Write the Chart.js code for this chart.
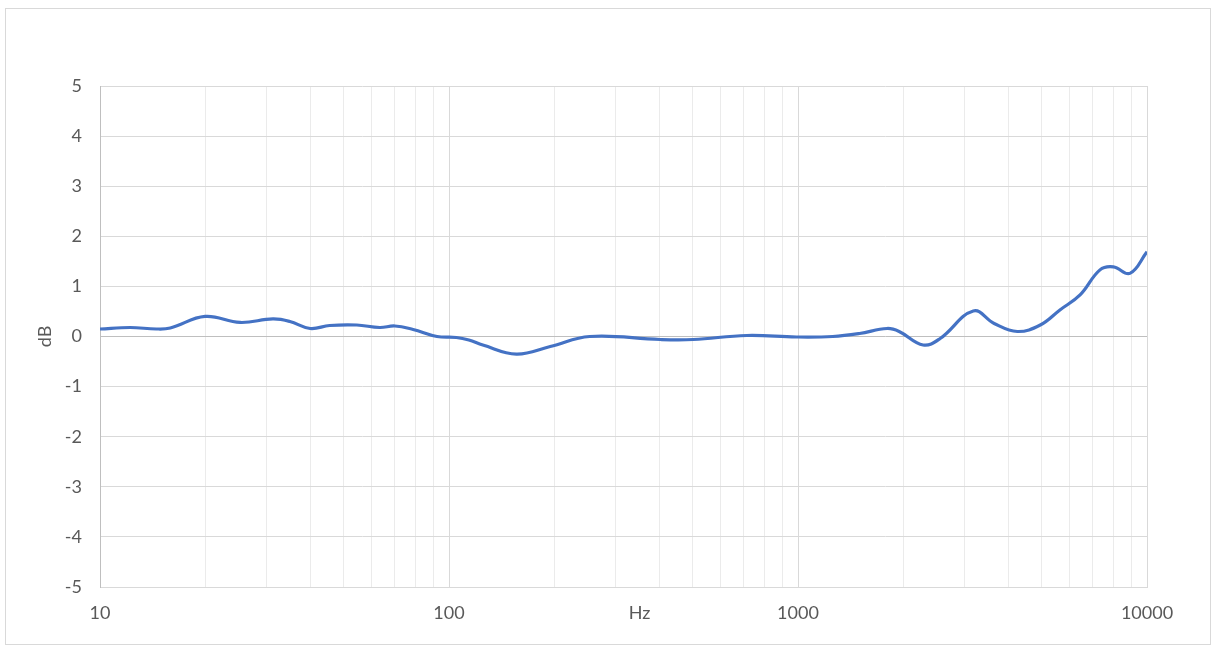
<!DOCTYPE html>
<html>
<head>
<meta charset="utf-8">
<script src="https://cdn.jsdelivr.net/npm/chart.js@4/dist/chart.umd.min.js"></script>
<style>
  html, body { margin: 0; padding: 0; background: #ffffff; }
  #frame {
    position: absolute; left: 5px; top: 8px;
    width: 1206px; height: 637px;
    box-sizing: border-box; border: 1px solid #d9d9d9;
    background: #ffffff;
  }
  #frame canvas { display: block; }
</style>
</head>
<body>
<div id="frame"><canvas id="response"></canvas></div>
<script>
// ---- data ----
const freqHz = [10, 12.2, 14.5, 15.9, 20, 25.2, 31.3, 35, 40, 45.5, 54.4, 63.3, 70, 78.9, 92.4,
                105, 114, 125, 156, 195, 253, 403, 501, 713, 990, 1257, 1501, 1800, 1949,
                2283, 2555, 3178, 3648, 4250, 4945, 5630, 6430, 7333, 8010, 8932, 10000];
const levelDb = [0.15, 0.18, 0.15, 0.17, 0.40, 0.28, 0.35, 0.30, 0.16, 0.22, 0.23, 0.18, 0.21, 0.14, 0.00,
                 -0.02, -0.07, -0.17, -0.35, -0.20, 0.00, -0.06, -0.06, 0.02, -0.01, 0.00, 0.06, 0.16, 0.10,
                 -0.17, -0.04, 0.51, 0.26, 0.10, 0.23, 0.53, 0.83, 1.33, 1.39, 1.26, 1.69];

// grid positions on the log axis (labels only on decades)
const xGridTicks = [10, 20, 30, 40, 50, 60, 70, 80, 90,
                    100, 200, 300, 400, 500, 600, 700, 800, 900,
                    1000, 2000, 3000, 4000, 5000, 6000, 7000, 8000, 9000, 10000];
const xLabelTicks = [10, 100, 1000, 10000];
const yTicks = [-5, -4, -3, -2, -1, 0, 1, 2, 3, 4, 5];

const points = freqHz.map((f, i) => ({ x: f, y: levelDb[i] }));

const textColor = "#595959";
const tickFont = { family: "Lato, 'Open Sans', sans-serif", size: 18 };

const ctx = document.getElementById("response");
ctx.width = 1204;
ctx.height = 635;

new Chart(ctx, {
    type: "scatter",
    data: {
        datasets: [{
            data: points,
            showLine: true,
            borderColor: "#4472C4",
            borderWidth: 3.2,
            pointRadius: 0,
            tension: 0.4,
            fill: false
        }]
    },
    options: {
        responsive: false,
        animation: false,
        layout: { padding: { left: 0, top: 77, right: 63, bottom: 0 } },
        plugins: {
            legend: { display: false },
            tooltip: { enabled: false }
        },
        scales: {
            x: {
                type: "logarithmic",
                min: 10,
                max: 10000,
                afterBuildTicks: scale => {
                    scale.ticks = xGridTicks.map(v => ({ value: v }));
                },
                afterFit: scale => { scale.height = 57; },
                ticks: {
                    autoSkip: false,
                    maxRotation: 0,
                    padding: 15,
                    color: textColor,
                    font: tickFont,
                    callback: v => xLabelTicks.includes(v) ? String(v) : ""
                },
                grid: {
                    drawTicks: false,
                    color: c => (c.tick && xLabelTicks.includes(c.tick.value)) ? "#d9d9d9" : "#ebebeb",
                    lineWidth: 1
                },
                border: { display: true, color: "#d9d9d9" },
                title: {
                    display: true,
                    text: "       Hz",
                    color: textColor,
                    font: tickFont,
                    padding: { top: 0, bottom: 20 }
                }
            },
            y: {
                min: -5,
                max: 5,
                afterBuildTicks: scale => {
                    scale.ticks = yTicks.map(v => ({ value: v }));
                },
                afterFit: scale => { scale.width = 94; },
                ticks: {
                    padding: 18,
                    color: textColor,
                    font: tickFont
                },
                grid: {
                    drawTicks: false,
                    color: c => (c.tick && c.tick.value === 0) ? "#bfbfbf" : "#d9d9d9",
                    lineWidth: 1
                },
                border: { display: true, color: "#bfbfbf" },
                title: {
                    display: true,
                    text: "dB",
                    color: textColor,
                    font: tickFont,
                    padding: { top: 28, bottom: 0 }
                }
            }
        }
    }
});
</script>
</body>
</html>
